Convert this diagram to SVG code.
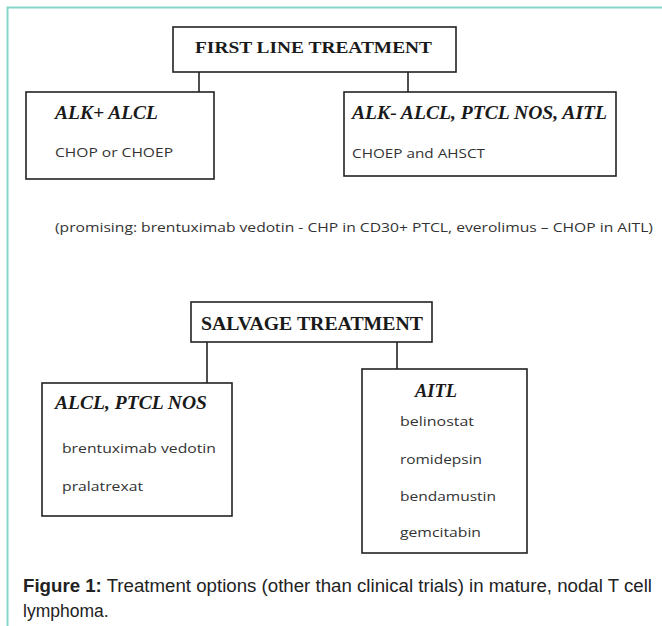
<svg xmlns="http://www.w3.org/2000/svg" width="662" height="626" viewBox="0 0 662 626">
<style>
.box{fill:#fff;stroke:#222;stroke-width:1.6}
.conn line{stroke:#222;stroke-width:1.6}
.head{font-family:"Liberation Serif","Times New Roman",serif;font-weight:bold;fill:#1a1a1a}
.sub{font-family:"Liberation Serif","Times New Roman",serif;font-weight:bold;font-style:italic;fill:#1a1a1a;font-size:18px}
.drug{font-family:"Open Sans","Liberation Sans",sans-serif;fill:#333;font-size:13.5px}
.cap{font-family:"Liberation Sans",Arial,sans-serif;fill:#222;font-size:17.5px}
</style>
<rect width="662" height="626" fill="#fff"/>
<path d="M7.5,626 V7.5 H662" fill="none" stroke="#86d6ca" stroke-width="2"/>
<g id="connectors" class="conn">
<line x1="199" y1="72" x2="199" y2="92"/>
<line x1="408" y1="72" x2="408" y2="92"/>
<line x1="207" y1="342" x2="207" y2="383"/>
<line x1="397" y1="342" x2="397" y2="369"/>
</g>
<g id="first-line">
<rect class="box" x="173" y="27" width="283" height="45"/>
<text class="head" x="195" y="53" font-size="17.5" textLength="237" lengthAdjust="spacingAndGlyphs">FIRST LINE TREATMENT</text>
</g>
<g id="alk-pos">
<rect class="box" x="26" y="92" width="188" height="87"/>
<text class="sub" x="55" y="119" textLength="103" lengthAdjust="spacingAndGlyphs">ALK+ ALCL</text>
<text class="drug" x="55" y="157" textLength="118" lengthAdjust="spacingAndGlyphs">CHOP or CHOEP</text>
</g>
<g id="alk-neg">
<rect class="box" x="344" y="92" width="272" height="84"/>
<text class="sub" x="352" y="119" textLength="255" lengthAdjust="spacingAndGlyphs">ALK- ALCL, PTCL NOS, AITL</text>
<text class="drug" x="352" y="158" textLength="133" lengthAdjust="spacingAndGlyphs">CHOEP and AHSCT</text>
</g>
<text id="promising" class="drug" x="55" y="232" textLength="598" lengthAdjust="spacingAndGlyphs">(promising: brentuximab vedotin - CHP in CD30+ PTCL, everolimus – CHOP in AITL)</text>
<g id="salvage">
<rect class="box" x="191" y="302" width="241" height="40"/>
<text class="head" x="201" y="330" font-size="19" textLength="222" lengthAdjust="spacingAndGlyphs">SALVAGE TREATMENT</text>
</g>
<g id="alcl-ptcl">
<rect class="box" x="42" y="383" width="190" height="133"/>
<text class="sub" x="55" y="409" textLength="152" lengthAdjust="spacingAndGlyphs">ALCL, PTCL NOS</text>
<text class="drug" x="62" y="453" textLength="154" lengthAdjust="spacingAndGlyphs">brentuximab vedotin</text>
<text class="drug" x="62" y="491" textLength="81" lengthAdjust="spacingAndGlyphs">pralatrexat</text>
</g>
<g id="aitl">
<rect class="box" x="362" y="369" width="165" height="184"/>
<text class="sub" x="415" y="397" textLength="42" lengthAdjust="spacingAndGlyphs">AITL</text>
<text class="drug" x="400" y="426" textLength="74" lengthAdjust="spacingAndGlyphs">belinostat</text>
<text class="drug" x="400" y="464" textLength="82" lengthAdjust="spacingAndGlyphs">romidepsin</text>
<text class="drug" x="400" y="501" textLength="96" lengthAdjust="spacingAndGlyphs">bendamustin</text>
<text class="drug" x="400" y="537" textLength="81" lengthAdjust="spacingAndGlyphs">gemcitabin</text>
</g>
<text class="cap" x="23" y="592" textLength="629" lengthAdjust="spacingAndGlyphs"><tspan font-weight="bold">Figure 1:</tspan> Treatment options (other than clinical trials) in mature, nodal T cell</text>
<text class="cap" x="23" y="617" font-size="18.5">lymphoma.</text>
</svg>
